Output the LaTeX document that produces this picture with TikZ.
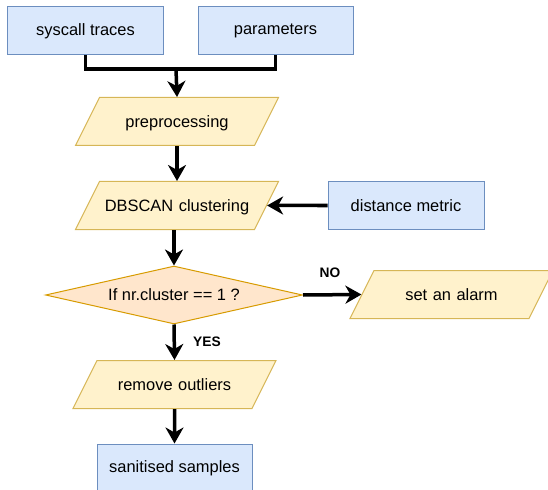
\documentclass[tikz,border=0pt]{standalone}
\usepackage{fontspec}
\setmainfont{Liberation Sans}
\usetikzlibrary{arrows.meta,shapes.geometric}
\definecolor{inblue}{RGB}{218,232,252}
\definecolor{inblueline}{RGB}{108,142,191}
\definecolor{stepyellow}{RGB}{255,242,204}
\definecolor{stepyellowline}{RGB}{214,182,86}
\definecolor{testorange}{RGB}{255,230,204}
\definecolor{testorangeline}{RGB}{215,155,0}
\tikzset{
  boxfont/.style={font=\fontsize{16.5}{19}\selectfont},
  databox/.style={boxfont, draw=inblueline, line width=1bp, fill=inblue,
                  minimum width=155bp, minimum height=48bp, inner sep=0pt},
  process/.style={boxfont, trapezium, trapezium left angle=63.4,
                  trapezium right angle=116.6,
                  draw=stepyellowline, line width=1bp, fill=stepyellow,
                  text width=155bp, align=center, text height=30bp,
                  text depth=18bp, inner sep=0pt},
  decision/.style={boxfont, diamond, aspect=4.43,
                   draw=testorangeline, line width=1bp, fill=testorange,
                   minimum width=257bp, minimum height=58bp, inner sep=0pt},
  wire/.style={black, line width=3.5bp},
  flow/.style={wire, -{Stealth[length=16bp,width=18bp,inset=5bp]}},
  branch/.style={font=\fontsize{13.8}{16}\selectfont\bfseries},
}
\begin{document}
\begin{tikzpicture}[x=1bp,y=-1bp]
  \useasboundingbox (0,0) rectangle (548,490);

  % inputs
  \node[databox] (traces) at (85.5,31) {syscall traces};
  \node[databox] (params) at (275.5,31) {parameters};
  \coordinate (join) at (176,69);

  % main column
  \node[process] (prep) at (177,121.5) {preprocessing};
  \node[process] (dbscan) at (177,205.5) {DBSCAN clustering};
  \node[databox, minimum width=156bp] (metric) at (406,205.5) {distance metric};
  \node[decision] (check) at (174,295) {If nr.cluster == 1 ?};
  \node[process] (alarm) at (451.5,294.5) {set an alarm};
  \node[process] (outliers) at (174.5,384.5) {remove outliers};
  \node[databox] (clean) at (174.5,468) {sanitised samples};

  % connectors
  \draw[wire] (traces.south) |- (join);
  \draw[wire] (params.south) |- (join);
  \draw[flow] (join) -- (prep.north);
  \draw[flow] (prep.south) -- (dbscan.north);
  \draw[flow] (metric.west) -- (dbscan.east);
  \draw[flow] (dbscan.south -| check.north) -- (check.north);
  \draw[flow] (check.east) -- (alarm.west);
  \draw[flow] (check.south) -- (outliers.north);
  \draw[flow] (outliers.south) -- (clean.north);

  \node[branch] (nolab) at (330,273) {NO};
  \node[branch] (yeslab) at (207,342) {YES};
\end{tikzpicture}
\end{document}
